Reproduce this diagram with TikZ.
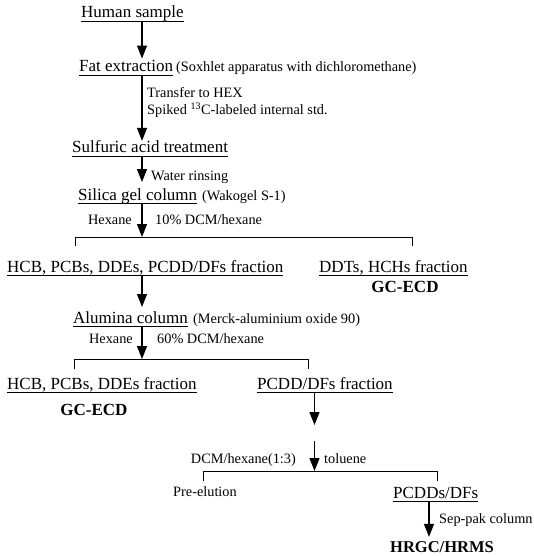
\documentclass[tikz,border=0pt]{standalone}
\usepackage{fontspec}
\setmainfont{Liberation Serif}
\usetikzlibrary{arrows.meta}
\newcommand\myul[1]{\setbox0\hbox{#1}\rlap{\rule[-4pt]{\wd0}{0.9pt}}\box0}
\begin{document}
\begin{tikzpicture}[x=1pt,y=-1pt,
  big/.style={font=\fontsize{17}{20}\selectfont, inner sep=0pt, anchor=base west},
  small/.style={font=\fontsize{14.3}{17}\selectfont, inner sep=0pt, anchor=base west},
  boldtxt/.style={font=\fontsize{17}{20}\selectfont\bfseries, inner sep=0pt, anchor=base},
  arr/.style={-{Triangle[width=10pt,length=13pt]}, line width=1.2pt},
  brk/.style={line width=1pt}]
\useasboundingbox (0,0) rectangle (533,556);
\coordinate (col) at (142,0);
% texts
\node[big] (hs) at (81,18) {\myul{Human sample}};
\node[big] (fe) at (79,72) {\myul{Fat extraction}};
\node[small] (fep) at (176,72) {(Soxhlet apparatus with dichloromethane)};
\node[small] (l1) at (147,98) {Transfer to HEX};
\node[small] (l2) at (147,115) {Spiked \textsuperscript{13}C-labeled internal std.};
\node[big] (sa) at (72,153) {\myul{Sulfuric acid treatment}};
\node[small] (wr) at (151,180) {Water rinsing};
\node[big] (sg) at (78,200) {\myul{Silica gel column}};
\node[small] (sgp) at (202,200) {(Wakogel S-1)};
\node[small, anchor=base east] (hx1) at (132,224) {Hexane};
\node[small] (dcm1) at (155,224) {10\% DCM/hexane};
\node[big] (f1) at (7,272) {\myul{HCB, PCBs, DDEs, PCDD/DFs fraction}};
\node[big] (f2) at (319,272) {\myul{DDTs, HCHs fraction}};
\node[boldtxt] (gc1) at (405,292) {GC-ECD};
\node[big] (al) at (73,323) {\myul{Alumina column}};
\node[small] (alp) at (193,323) {(Merck-aluminium oxide 90)};
\node[small, anchor=base east] (hx2) at (133,343) {Hexane};
\node[small] (dcm2) at (157,343) {60\% DCM/hexane};
\node[big] (f3) at (7,389) {\myul{HCB, PCBs, DDEs fraction}};
\node[boldtxt] (gc2) at (94,415) {GC-ECD};
\node[big] (f4) at (257,389) {\myul{PCDD/DFs fraction}};
\node[small, anchor=base east] (dcm3) at (296,463) {DCM/hexane(1:3)};
\node[small] (tol) at (324,463) {toluene};
\node[small] (pre) at (173,496) {Pre-elution};
\node[big] (pc) at (393,498) {\myul{PCDDs/DFs}};
\node[small] (sp) at (439,523) {Sep-pak column};
\node[boldtxt, font=\fontsize{16.5}{20}\selectfont\bfseries] (hr) at (442,552) {HRGC/HRMS};
% bracket coordinates
\coordinate (b1a) at (75,246); \coordinate (b1b) at (75,237);
\coordinate (b1c) at (412,237); \coordinate (b1d) at (412,246);
\coordinate (b2a) at (74,369); \coordinate (b2b) at (74,359);
\coordinate (b2c) at (308,359); \coordinate (b2d) at (308,369);
\coordinate (b3a) at (203,481); \coordinate (b3b) at (203,471);
\coordinate (b3c) at (437,471); \coordinate (b3d) at (437,481);
\coordinate (c7) at (314.5,0);
\coordinate (e7) at (314.5,425);
\coordinate (s8) at (314.5,441);
\coordinate (c9) at (429,0);
% brackets
\draw[brk] (b1a) -- (b1b) -- (b1c) -- (b1d);
\draw[brk] (b2a) -- (b2b) -- (b2c) -- (b2d);
\draw[brk] (b3a) -- (b3b) -- (b3c) -- (b3d);
% arrows
\draw[arr, shorten >=2pt] (hs.south -| col) -- (fe.north -| col);
\draw[arr] (fe.south -| col) -- (sa.north -| col);
\draw[arr, shorten >=6pt] (sa.south -| col) -- (sg.north -| col);
\draw[arr] (sg.south -| col) -- (b1b -| col);
\draw[arr, shorten >=4pt] (f1.south -| col) -- (al.north -| col);
\draw[arr] (al.south -| col) -- (b2b -| col);
\draw[arr] (f4.south -| c7) -- (e7);
\draw[arr] (s8) -- (b3b -| s8);
\draw[arr, shorten >=4pt] (pc.south -| c9) -- (hr.north -| c9);
\end{tikzpicture}
\end{document}
